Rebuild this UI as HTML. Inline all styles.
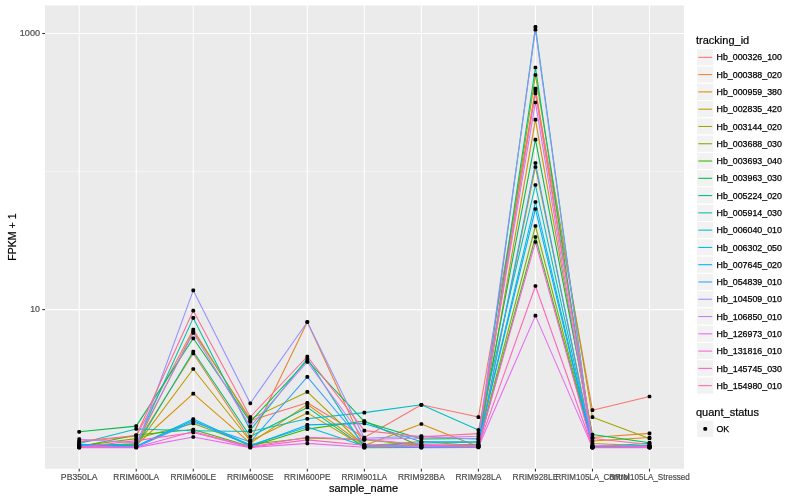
<!DOCTYPE html>
<html lang="en"><head><meta charset="utf-8"><title>FPKM + 1 by sample_name</title>
<style>html,body{margin:0;padding:0;background:#fff}svg{display:block}text{font-family:"Liberation Sans",Arial,Helvetica,sans-serif}</style>
</head><body>
<svg width="800" height="500" viewBox="0 0 800 500">
<rect width="800" height="500" fill="#ffffff"/>
<rect x="45.0" y="5.5" width="639.0" height="463.25" fill="#EBEBEB"/>
<g stroke="#ffffff" stroke-width="0.53" opacity="0.9">
<line x1="45.0" x2="684.0" y1="447.65" y2="447.65"/>
<line x1="45.0" x2="684.0" y1="171.55" y2="171.55"/>
</g>
<g stroke="#ffffff" stroke-width="1.07">
<line x1="45.0" x2="684.0" y1="309.60" y2="309.60"/>
<line x1="45.0" x2="684.0" y1="33.50" y2="33.50"/>
<line x1="79.20" x2="79.20" y1="5.5" y2="468.75"/>
<line x1="136.23" x2="136.23" y1="5.5" y2="468.75"/>
<line x1="193.26" x2="193.26" y1="5.5" y2="468.75"/>
<line x1="250.29" x2="250.29" y1="5.5" y2="468.75"/>
<line x1="307.32" x2="307.32" y1="5.5" y2="468.75"/>
<line x1="364.35" x2="364.35" y1="5.5" y2="468.75"/>
<line x1="421.38" x2="421.38" y1="5.5" y2="468.75"/>
<line x1="478.41" x2="478.41" y1="5.5" y2="468.75"/>
<line x1="535.44" x2="535.44" y1="5.5" y2="468.75"/>
<line x1="592.47" x2="592.47" y1="5.5" y2="468.75"/>
<line x1="649.50" x2="649.50" y1="5.5" y2="468.75"/>
</g>
<g fill="none" stroke-width="1.07" stroke-linejoin="round" stroke-linecap="butt">
<polyline stroke="#F8766D" points="79.20,442.00 136.23,436.20 193.26,329.60 250.29,420.50 307.32,402.80 364.35,437.50 421.38,404.80 478.41,417.10 535.44,91.00 592.47,410.20 649.50,396.50"/>
<polyline stroke="#EA8331" points="79.20,447.00 136.23,443.50 193.26,353.50 250.29,440.00 307.32,322.00 364.35,446.30 421.38,446.20 478.41,444.00 535.44,88.60 592.47,437.50 649.50,433.40"/>
<polyline stroke="#D89000" points="79.20,446.50 136.23,445.00 193.26,393.60 250.29,443.20 307.32,404.40 364.35,445.50 421.38,424.00 478.41,446.80 535.44,119.60 592.47,441.00 649.50,437.50"/>
<polyline stroke="#C09B00" points="79.20,446.20 136.23,445.60 193.26,369.00 250.29,441.00 307.32,412.90 364.35,446.70 421.38,445.00 478.41,446.50 535.44,167.00 592.47,443.50 649.50,446.00"/>
<polyline stroke="#A3A500" points="79.20,445.80 136.23,444.50 193.26,331.50 250.29,419.00 307.32,391.90 364.35,446.00 421.38,441.50 478.41,446.00 535.44,75.00 592.47,417.20 649.50,438.50"/>
<polyline stroke="#7CAE00" points="79.20,446.00 136.23,438.60 193.26,423.50 250.29,444.50 307.32,438.00 364.35,439.80 421.38,445.50 478.41,445.00 535.44,226.00 592.47,446.00 649.50,446.30"/>
<polyline stroke="#39B600" points="79.20,446.80 136.23,435.00 193.26,429.50 250.29,446.50 307.32,429.10 364.35,421.00 421.38,446.80 478.41,445.80 535.44,237.00 592.47,446.30 649.50,446.60"/>
<polyline stroke="#00BB4E" points="79.20,431.80 136.23,426.10 193.26,338.30 250.29,421.80 307.32,360.50 364.35,421.70 421.38,439.00 478.41,438.50 535.44,139.60 592.47,434.50 649.50,442.80"/>
<polyline stroke="#00BF7D" points="79.20,444.50 136.23,446.00 193.26,351.50 250.29,436.50 307.32,407.40 364.35,447.40 421.38,447.20 478.41,444.80 535.44,67.50 592.47,446.60 649.50,446.80"/>
<polyline stroke="#00C1A3" points="79.20,445.50 136.23,444.00 193.26,317.90 250.29,430.30 307.32,358.50 364.35,447.60 421.38,447.50 478.41,447.10 535.44,26.90 592.47,446.80 649.50,447.00"/>
<polyline stroke="#00BFC4" points="79.20,443.50 136.23,429.00 193.26,430.80 250.29,431.50 307.32,418.80 364.35,412.65 421.38,404.80 478.41,430.10 535.44,185.00 592.47,447.00 649.50,443.20"/>
<polyline stroke="#00BAE0" points="79.20,444.80 136.23,446.30 193.26,419.00 250.29,445.20 307.32,426.90 364.35,446.10 421.38,443.00 478.41,442.30 535.44,202.00 592.47,447.10 649.50,446.90"/>
<polyline stroke="#00B0F6" points="79.20,444.30 136.23,446.60 193.26,420.50 250.29,446.00 307.32,424.90 364.35,423.40 421.38,441.80 478.41,441.50 535.44,209.00 592.47,447.20 649.50,445.50"/>
<polyline stroke="#35A2FF" points="79.20,445.20 136.23,446.90 193.26,422.00 250.29,442.00 307.32,376.90 364.35,444.50 421.38,447.60 478.41,447.50 535.44,163.00 592.47,447.30 649.50,447.20"/>
<polyline stroke="#9590FF" points="79.20,447.20 136.23,447.00 193.26,290.40 250.29,403.30 307.32,322.00 364.35,438.30 421.38,436.00 478.41,439.30 535.44,29.60 592.47,447.40 649.50,447.30"/>
<polyline stroke="#C77CFF" points="79.20,439.20 136.23,442.70 193.26,333.00 250.29,426.40 307.32,362.00 364.35,439.50 421.38,438.00 478.41,436.30 535.44,102.50 592.47,445.20 649.50,446.50"/>
<polyline stroke="#E76BF3" points="79.20,447.60 136.23,447.60 193.26,437.00 250.29,447.60 307.32,443.40 364.35,447.20 421.38,446.50 478.41,447.00 535.44,315.60 592.47,447.60 649.50,447.60"/>
<polyline stroke="#FA62DB" points="79.20,446.60 136.23,447.20 193.26,431.50 250.29,446.80 307.32,437.30 364.35,439.30 421.38,444.50 478.41,445.50 535.44,242.00 592.47,447.30 649.50,447.40"/>
<polyline stroke="#FF62BC" points="79.20,447.30 136.23,440.60 193.26,432.50 250.29,447.20 307.32,439.90 364.35,445.30 421.38,445.20 478.41,446.30 535.44,286.00 592.47,447.50 649.50,447.50"/>
<polyline stroke="#FF6A98" points="79.20,441.30 136.23,435.50 193.26,310.70 250.29,417.00 307.32,356.50 364.35,430.60 421.38,436.80 478.41,433.60 535.44,93.40 592.47,438.50 649.50,444.50"/>
</g>
<g fill="#000000">
<rect x="77.35" y="440.15" width="3.7" height="3.7" rx="1.3"/>
<rect x="134.38" y="434.35" width="3.7" height="3.7" rx="1.3"/>
<rect x="191.41" y="327.75" width="3.7" height="3.7" rx="1.3"/>
<rect x="248.44" y="418.65" width="3.7" height="3.7" rx="1.3"/>
<rect x="305.47" y="400.95" width="3.7" height="3.7" rx="1.3"/>
<rect x="362.50" y="435.65" width="3.7" height="3.7" rx="1.3"/>
<rect x="419.53" y="402.95" width="3.7" height="3.7" rx="1.3"/>
<rect x="476.56" y="415.25" width="3.7" height="3.7" rx="1.3"/>
<rect x="533.59" y="89.15" width="3.7" height="3.7" rx="1.3"/>
<rect x="590.62" y="408.35" width="3.7" height="3.7" rx="1.3"/>
<rect x="647.65" y="394.65" width="3.7" height="3.7" rx="1.3"/>
<rect x="77.35" y="445.15" width="3.7" height="3.7" rx="1.3"/>
<rect x="134.38" y="441.65" width="3.7" height="3.7" rx="1.3"/>
<rect x="191.41" y="351.65" width="3.7" height="3.7" rx="1.3"/>
<rect x="248.44" y="438.15" width="3.7" height="3.7" rx="1.3"/>
<rect x="305.47" y="320.15" width="3.7" height="3.7" rx="1.3"/>
<rect x="362.50" y="444.45" width="3.7" height="3.7" rx="1.3"/>
<rect x="419.53" y="444.35" width="3.7" height="3.7" rx="1.3"/>
<rect x="476.56" y="442.15" width="3.7" height="3.7" rx="1.3"/>
<rect x="533.59" y="86.75" width="3.7" height="3.7" rx="1.3"/>
<rect x="590.62" y="435.65" width="3.7" height="3.7" rx="1.3"/>
<rect x="647.65" y="431.55" width="3.7" height="3.7" rx="1.3"/>
<rect x="77.35" y="444.65" width="3.7" height="3.7" rx="1.3"/>
<rect x="134.38" y="443.15" width="3.7" height="3.7" rx="1.3"/>
<rect x="191.41" y="391.75" width="3.7" height="3.7" rx="1.3"/>
<rect x="248.44" y="441.35" width="3.7" height="3.7" rx="1.3"/>
<rect x="305.47" y="402.55" width="3.7" height="3.7" rx="1.3"/>
<rect x="362.50" y="443.65" width="3.7" height="3.7" rx="1.3"/>
<rect x="419.53" y="422.15" width="3.7" height="3.7" rx="1.3"/>
<rect x="476.56" y="444.95" width="3.7" height="3.7" rx="1.3"/>
<rect x="533.59" y="117.75" width="3.7" height="3.7" rx="1.3"/>
<rect x="590.62" y="439.15" width="3.7" height="3.7" rx="1.3"/>
<rect x="647.65" y="435.65" width="3.7" height="3.7" rx="1.3"/>
<rect x="77.35" y="444.35" width="3.7" height="3.7" rx="1.3"/>
<rect x="134.38" y="443.75" width="3.7" height="3.7" rx="1.3"/>
<rect x="191.41" y="367.15" width="3.7" height="3.7" rx="1.3"/>
<rect x="248.44" y="439.15" width="3.7" height="3.7" rx="1.3"/>
<rect x="305.47" y="411.05" width="3.7" height="3.7" rx="1.3"/>
<rect x="362.50" y="444.85" width="3.7" height="3.7" rx="1.3"/>
<rect x="419.53" y="443.15" width="3.7" height="3.7" rx="1.3"/>
<rect x="476.56" y="444.65" width="3.7" height="3.7" rx="1.3"/>
<rect x="533.59" y="165.15" width="3.7" height="3.7" rx="1.3"/>
<rect x="590.62" y="441.65" width="3.7" height="3.7" rx="1.3"/>
<rect x="647.65" y="444.15" width="3.7" height="3.7" rx="1.3"/>
<rect x="77.35" y="443.95" width="3.7" height="3.7" rx="1.3"/>
<rect x="134.38" y="442.65" width="3.7" height="3.7" rx="1.3"/>
<rect x="191.41" y="329.65" width="3.7" height="3.7" rx="1.3"/>
<rect x="248.44" y="417.15" width="3.7" height="3.7" rx="1.3"/>
<rect x="305.47" y="390.05" width="3.7" height="3.7" rx="1.3"/>
<rect x="362.50" y="444.15" width="3.7" height="3.7" rx="1.3"/>
<rect x="419.53" y="439.65" width="3.7" height="3.7" rx="1.3"/>
<rect x="476.56" y="444.15" width="3.7" height="3.7" rx="1.3"/>
<rect x="533.59" y="73.15" width="3.7" height="3.7" rx="1.3"/>
<rect x="590.62" y="415.35" width="3.7" height="3.7" rx="1.3"/>
<rect x="647.65" y="436.65" width="3.7" height="3.7" rx="1.3"/>
<rect x="77.35" y="444.15" width="3.7" height="3.7" rx="1.3"/>
<rect x="134.38" y="436.75" width="3.7" height="3.7" rx="1.3"/>
<rect x="191.41" y="421.65" width="3.7" height="3.7" rx="1.3"/>
<rect x="248.44" y="442.65" width="3.7" height="3.7" rx="1.3"/>
<rect x="305.47" y="436.15" width="3.7" height="3.7" rx="1.3"/>
<rect x="362.50" y="437.95" width="3.7" height="3.7" rx="1.3"/>
<rect x="419.53" y="443.65" width="3.7" height="3.7" rx="1.3"/>
<rect x="476.56" y="443.15" width="3.7" height="3.7" rx="1.3"/>
<rect x="533.59" y="224.15" width="3.7" height="3.7" rx="1.3"/>
<rect x="590.62" y="444.15" width="3.7" height="3.7" rx="1.3"/>
<rect x="647.65" y="444.45" width="3.7" height="3.7" rx="1.3"/>
<rect x="77.35" y="444.95" width="3.7" height="3.7" rx="1.3"/>
<rect x="134.38" y="433.15" width="3.7" height="3.7" rx="1.3"/>
<rect x="191.41" y="427.65" width="3.7" height="3.7" rx="1.3"/>
<rect x="248.44" y="444.65" width="3.7" height="3.7" rx="1.3"/>
<rect x="305.47" y="427.25" width="3.7" height="3.7" rx="1.3"/>
<rect x="362.50" y="419.15" width="3.7" height="3.7" rx="1.3"/>
<rect x="419.53" y="444.95" width="3.7" height="3.7" rx="1.3"/>
<rect x="476.56" y="443.95" width="3.7" height="3.7" rx="1.3"/>
<rect x="533.59" y="235.15" width="3.7" height="3.7" rx="1.3"/>
<rect x="590.62" y="444.45" width="3.7" height="3.7" rx="1.3"/>
<rect x="647.65" y="444.75" width="3.7" height="3.7" rx="1.3"/>
<rect x="77.35" y="429.95" width="3.7" height="3.7" rx="1.3"/>
<rect x="134.38" y="424.25" width="3.7" height="3.7" rx="1.3"/>
<rect x="191.41" y="336.45" width="3.7" height="3.7" rx="1.3"/>
<rect x="248.44" y="419.95" width="3.7" height="3.7" rx="1.3"/>
<rect x="305.47" y="358.65" width="3.7" height="3.7" rx="1.3"/>
<rect x="362.50" y="419.85" width="3.7" height="3.7" rx="1.3"/>
<rect x="419.53" y="437.15" width="3.7" height="3.7" rx="1.3"/>
<rect x="476.56" y="436.65" width="3.7" height="3.7" rx="1.3"/>
<rect x="533.59" y="137.75" width="3.7" height="3.7" rx="1.3"/>
<rect x="590.62" y="432.65" width="3.7" height="3.7" rx="1.3"/>
<rect x="647.65" y="440.95" width="3.7" height="3.7" rx="1.3"/>
<rect x="77.35" y="442.65" width="3.7" height="3.7" rx="1.3"/>
<rect x="134.38" y="444.15" width="3.7" height="3.7" rx="1.3"/>
<rect x="191.41" y="349.65" width="3.7" height="3.7" rx="1.3"/>
<rect x="248.44" y="434.65" width="3.7" height="3.7" rx="1.3"/>
<rect x="305.47" y="405.55" width="3.7" height="3.7" rx="1.3"/>
<rect x="362.50" y="445.55" width="3.7" height="3.7" rx="1.3"/>
<rect x="419.53" y="445.35" width="3.7" height="3.7" rx="1.3"/>
<rect x="476.56" y="442.95" width="3.7" height="3.7" rx="1.3"/>
<rect x="533.59" y="65.65" width="3.7" height="3.7" rx="1.3"/>
<rect x="590.62" y="444.75" width="3.7" height="3.7" rx="1.3"/>
<rect x="647.65" y="444.95" width="3.7" height="3.7" rx="1.3"/>
<rect x="77.35" y="443.65" width="3.7" height="3.7" rx="1.3"/>
<rect x="134.38" y="442.15" width="3.7" height="3.7" rx="1.3"/>
<rect x="191.41" y="316.05" width="3.7" height="3.7" rx="1.3"/>
<rect x="248.44" y="428.45" width="3.7" height="3.7" rx="1.3"/>
<rect x="305.47" y="356.65" width="3.7" height="3.7" rx="1.3"/>
<rect x="362.50" y="445.75" width="3.7" height="3.7" rx="1.3"/>
<rect x="419.53" y="445.65" width="3.7" height="3.7" rx="1.3"/>
<rect x="476.56" y="445.25" width="3.7" height="3.7" rx="1.3"/>
<rect x="533.59" y="25.05" width="3.7" height="3.7" rx="1.3"/>
<rect x="590.62" y="444.95" width="3.7" height="3.7" rx="1.3"/>
<rect x="647.65" y="445.15" width="3.7" height="3.7" rx="1.3"/>
<rect x="77.35" y="441.65" width="3.7" height="3.7" rx="1.3"/>
<rect x="134.38" y="427.15" width="3.7" height="3.7" rx="1.3"/>
<rect x="191.41" y="428.95" width="3.7" height="3.7" rx="1.3"/>
<rect x="248.44" y="429.65" width="3.7" height="3.7" rx="1.3"/>
<rect x="305.47" y="416.95" width="3.7" height="3.7" rx="1.3"/>
<rect x="362.50" y="410.80" width="3.7" height="3.7" rx="1.3"/>
<rect x="419.53" y="402.95" width="3.7" height="3.7" rx="1.3"/>
<rect x="476.56" y="428.25" width="3.7" height="3.7" rx="1.3"/>
<rect x="533.59" y="183.15" width="3.7" height="3.7" rx="1.3"/>
<rect x="590.62" y="445.15" width="3.7" height="3.7" rx="1.3"/>
<rect x="647.65" y="441.35" width="3.7" height="3.7" rx="1.3"/>
<rect x="77.35" y="442.95" width="3.7" height="3.7" rx="1.3"/>
<rect x="134.38" y="444.45" width="3.7" height="3.7" rx="1.3"/>
<rect x="191.41" y="417.15" width="3.7" height="3.7" rx="1.3"/>
<rect x="248.44" y="443.35" width="3.7" height="3.7" rx="1.3"/>
<rect x="305.47" y="425.05" width="3.7" height="3.7" rx="1.3"/>
<rect x="362.50" y="444.25" width="3.7" height="3.7" rx="1.3"/>
<rect x="419.53" y="441.15" width="3.7" height="3.7" rx="1.3"/>
<rect x="476.56" y="440.45" width="3.7" height="3.7" rx="1.3"/>
<rect x="533.59" y="200.15" width="3.7" height="3.7" rx="1.3"/>
<rect x="590.62" y="445.25" width="3.7" height="3.7" rx="1.3"/>
<rect x="647.65" y="445.05" width="3.7" height="3.7" rx="1.3"/>
<rect x="77.35" y="442.45" width="3.7" height="3.7" rx="1.3"/>
<rect x="134.38" y="444.75" width="3.7" height="3.7" rx="1.3"/>
<rect x="191.41" y="418.65" width="3.7" height="3.7" rx="1.3"/>
<rect x="248.44" y="444.15" width="3.7" height="3.7" rx="1.3"/>
<rect x="305.47" y="423.05" width="3.7" height="3.7" rx="1.3"/>
<rect x="362.50" y="421.55" width="3.7" height="3.7" rx="1.3"/>
<rect x="419.53" y="439.95" width="3.7" height="3.7" rx="1.3"/>
<rect x="476.56" y="439.65" width="3.7" height="3.7" rx="1.3"/>
<rect x="533.59" y="207.15" width="3.7" height="3.7" rx="1.3"/>
<rect x="590.62" y="445.35" width="3.7" height="3.7" rx="1.3"/>
<rect x="647.65" y="443.65" width="3.7" height="3.7" rx="1.3"/>
<rect x="77.35" y="443.35" width="3.7" height="3.7" rx="1.3"/>
<rect x="134.38" y="445.05" width="3.7" height="3.7" rx="1.3"/>
<rect x="191.41" y="420.15" width="3.7" height="3.7" rx="1.3"/>
<rect x="248.44" y="440.15" width="3.7" height="3.7" rx="1.3"/>
<rect x="305.47" y="375.05" width="3.7" height="3.7" rx="1.3"/>
<rect x="362.50" y="442.65" width="3.7" height="3.7" rx="1.3"/>
<rect x="419.53" y="445.75" width="3.7" height="3.7" rx="1.3"/>
<rect x="476.56" y="445.65" width="3.7" height="3.7" rx="1.3"/>
<rect x="533.59" y="161.15" width="3.7" height="3.7" rx="1.3"/>
<rect x="590.62" y="445.45" width="3.7" height="3.7" rx="1.3"/>
<rect x="647.65" y="445.35" width="3.7" height="3.7" rx="1.3"/>
<rect x="77.35" y="445.35" width="3.7" height="3.7" rx="1.3"/>
<rect x="134.38" y="445.15" width="3.7" height="3.7" rx="1.3"/>
<rect x="191.41" y="288.55" width="3.7" height="3.7" rx="1.3"/>
<rect x="248.44" y="401.45" width="3.7" height="3.7" rx="1.3"/>
<rect x="305.47" y="320.15" width="3.7" height="3.7" rx="1.3"/>
<rect x="362.50" y="436.45" width="3.7" height="3.7" rx="1.3"/>
<rect x="419.53" y="434.15" width="3.7" height="3.7" rx="1.3"/>
<rect x="476.56" y="437.45" width="3.7" height="3.7" rx="1.3"/>
<rect x="533.59" y="27.75" width="3.7" height="3.7" rx="1.3"/>
<rect x="590.62" y="445.55" width="3.7" height="3.7" rx="1.3"/>
<rect x="647.65" y="445.45" width="3.7" height="3.7" rx="1.3"/>
<rect x="77.35" y="437.35" width="3.7" height="3.7" rx="1.3"/>
<rect x="134.38" y="440.85" width="3.7" height="3.7" rx="1.3"/>
<rect x="191.41" y="331.15" width="3.7" height="3.7" rx="1.3"/>
<rect x="248.44" y="424.55" width="3.7" height="3.7" rx="1.3"/>
<rect x="305.47" y="360.15" width="3.7" height="3.7" rx="1.3"/>
<rect x="362.50" y="437.65" width="3.7" height="3.7" rx="1.3"/>
<rect x="419.53" y="436.15" width="3.7" height="3.7" rx="1.3"/>
<rect x="476.56" y="434.45" width="3.7" height="3.7" rx="1.3"/>
<rect x="533.59" y="100.65" width="3.7" height="3.7" rx="1.3"/>
<rect x="590.62" y="443.35" width="3.7" height="3.7" rx="1.3"/>
<rect x="647.65" y="444.65" width="3.7" height="3.7" rx="1.3"/>
<rect x="77.35" y="445.75" width="3.7" height="3.7" rx="1.3"/>
<rect x="134.38" y="445.75" width="3.7" height="3.7" rx="1.3"/>
<rect x="191.41" y="435.15" width="3.7" height="3.7" rx="1.3"/>
<rect x="248.44" y="445.75" width="3.7" height="3.7" rx="1.3"/>
<rect x="305.47" y="441.55" width="3.7" height="3.7" rx="1.3"/>
<rect x="362.50" y="445.35" width="3.7" height="3.7" rx="1.3"/>
<rect x="419.53" y="444.65" width="3.7" height="3.7" rx="1.3"/>
<rect x="476.56" y="445.15" width="3.7" height="3.7" rx="1.3"/>
<rect x="533.59" y="313.75" width="3.7" height="3.7" rx="1.3"/>
<rect x="590.62" y="445.75" width="3.7" height="3.7" rx="1.3"/>
<rect x="647.65" y="445.75" width="3.7" height="3.7" rx="1.3"/>
<rect x="77.35" y="444.75" width="3.7" height="3.7" rx="1.3"/>
<rect x="134.38" y="445.35" width="3.7" height="3.7" rx="1.3"/>
<rect x="191.41" y="429.65" width="3.7" height="3.7" rx="1.3"/>
<rect x="248.44" y="444.95" width="3.7" height="3.7" rx="1.3"/>
<rect x="305.47" y="435.45" width="3.7" height="3.7" rx="1.3"/>
<rect x="362.50" y="437.45" width="3.7" height="3.7" rx="1.3"/>
<rect x="419.53" y="442.65" width="3.7" height="3.7" rx="1.3"/>
<rect x="476.56" y="443.65" width="3.7" height="3.7" rx="1.3"/>
<rect x="533.59" y="240.15" width="3.7" height="3.7" rx="1.3"/>
<rect x="590.62" y="445.45" width="3.7" height="3.7" rx="1.3"/>
<rect x="647.65" y="445.55" width="3.7" height="3.7" rx="1.3"/>
<rect x="77.35" y="445.45" width="3.7" height="3.7" rx="1.3"/>
<rect x="134.38" y="438.75" width="3.7" height="3.7" rx="1.3"/>
<rect x="191.41" y="430.65" width="3.7" height="3.7" rx="1.3"/>
<rect x="248.44" y="445.35" width="3.7" height="3.7" rx="1.3"/>
<rect x="305.47" y="438.05" width="3.7" height="3.7" rx="1.3"/>
<rect x="362.50" y="443.45" width="3.7" height="3.7" rx="1.3"/>
<rect x="419.53" y="443.35" width="3.7" height="3.7" rx="1.3"/>
<rect x="476.56" y="444.45" width="3.7" height="3.7" rx="1.3"/>
<rect x="533.59" y="284.15" width="3.7" height="3.7" rx="1.3"/>
<rect x="590.62" y="445.65" width="3.7" height="3.7" rx="1.3"/>
<rect x="647.65" y="445.65" width="3.7" height="3.7" rx="1.3"/>
<rect x="77.35" y="439.45" width="3.7" height="3.7" rx="1.3"/>
<rect x="134.38" y="433.65" width="3.7" height="3.7" rx="1.3"/>
<rect x="191.41" y="308.85" width="3.7" height="3.7" rx="1.3"/>
<rect x="248.44" y="415.15" width="3.7" height="3.7" rx="1.3"/>
<rect x="305.47" y="354.65" width="3.7" height="3.7" rx="1.3"/>
<rect x="362.50" y="428.75" width="3.7" height="3.7" rx="1.3"/>
<rect x="419.53" y="434.95" width="3.7" height="3.7" rx="1.3"/>
<rect x="476.56" y="431.75" width="3.7" height="3.7" rx="1.3"/>
<rect x="533.59" y="91.55" width="3.7" height="3.7" rx="1.3"/>
<rect x="590.62" y="436.65" width="3.7" height="3.7" rx="1.3"/>
<rect x="647.65" y="442.65" width="3.7" height="3.7" rx="1.3"/>
</g>
<g stroke="#333333" stroke-width="1.07">
<line x1="42.25" x2="45.0" y1="309.60" y2="309.60"/>
<line x1="42.25" x2="45.0" y1="33.50" y2="33.50"/>
<line x1="79.20" x2="79.20" y1="468.75" y2="471.5"/>
<line x1="136.23" x2="136.23" y1="468.75" y2="471.5"/>
<line x1="193.26" x2="193.26" y1="468.75" y2="471.5"/>
<line x1="250.29" x2="250.29" y1="468.75" y2="471.5"/>
<line x1="307.32" x2="307.32" y1="468.75" y2="471.5"/>
<line x1="364.35" x2="364.35" y1="468.75" y2="471.5"/>
<line x1="421.38" x2="421.38" y1="468.75" y2="471.5"/>
<line x1="478.41" x2="478.41" y1="468.75" y2="471.5"/>
<line x1="535.44" x2="535.44" y1="468.75" y2="471.5"/>
<line x1="592.47" x2="592.47" y1="468.75" y2="471.5"/>
<line x1="649.50" x2="649.50" y1="468.75" y2="471.5"/>
</g>
<g fill="#4D4D4D" font-size="8.8px" stroke="#4D4D4D" stroke-width="0.2">
<text x="40" y="35.80" text-anchor="end" textLength="20.2" lengthAdjust="spacingAndGlyphs">1000</text>
<text x="40" y="311.90" text-anchor="end" textLength="9.8" lengthAdjust="spacingAndGlyphs">10</text>
<text x="60.83" y="479.6" textLength="36.75" lengthAdjust="spacingAndGlyphs">PB350LA</text>
<text x="113.36" y="479.6" textLength="45.75" lengthAdjust="spacingAndGlyphs">RRIM600LA</text>
<text x="170.38" y="479.6" textLength="45.75" lengthAdjust="spacingAndGlyphs">RRIM600LE</text>
<text x="226.92" y="479.6" textLength="46.75" lengthAdjust="spacingAndGlyphs">RRIM600SE</text>
<text x="284.07" y="479.6" textLength="46.5" lengthAdjust="spacingAndGlyphs">RRIM600PE</text>
<text x="341.47" y="479.6" textLength="45.75" lengthAdjust="spacingAndGlyphs">RRIM901LA</text>
<text x="397.88" y="479.6" textLength="47" lengthAdjust="spacingAndGlyphs">RRIM928BA</text>
<text x="455.54" y="479.6" textLength="45.75" lengthAdjust="spacingAndGlyphs">RRIM928LA</text>
<text x="512.57" y="479.6" textLength="45.75" lengthAdjust="spacingAndGlyphs">RRIM928LE</text>
<text x="555.47" y="479.6" textLength="74" lengthAdjust="spacingAndGlyphs">RRIM105LA_Control</text>
<text x="609.25" y="479.6" textLength="80.5" lengthAdjust="spacingAndGlyphs">RRIM105LA_Stressed</text>
</g>
<text x="363.5" y="492" text-anchor="middle" font-size="11px" fill="#000" stroke="#000" stroke-width="0.2">sample_name</text>
<text transform="translate(16.3,237.1) rotate(-90)" text-anchor="middle" font-size="11px" fill="#000" stroke="#000" stroke-width="0.2" textLength="47.2" lengthAdjust="spacingAndGlyphs">FPKM + 1</text>
<text x="696" y="44.3" font-size="11px" fill="#000" stroke="#000" stroke-width="0.2">tracking_id</text>
<rect x="696.6" y="48.70" width="17.28" height="17.28" fill="#F2F2F2" stroke="#fff" stroke-width="1.07"/>
<line x1="698.33" x2="712.15" y1="57.34" y2="57.34" stroke="#F8766D" stroke-width="1.07"/>
<text x="716.5" y="60.49" font-size="8.8px" fill="#000" stroke="#000" stroke-width="0.25" textLength="65.4" lengthAdjust="spacingAndGlyphs">Hb_000326_100</text>
<rect x="696.6" y="65.98" width="17.28" height="17.28" fill="#F2F2F2" stroke="#fff" stroke-width="1.07"/>
<line x1="698.33" x2="712.15" y1="74.62" y2="74.62" stroke="#EA8331" stroke-width="1.07"/>
<text x="716.5" y="77.77" font-size="8.8px" fill="#000" stroke="#000" stroke-width="0.25" textLength="65.4" lengthAdjust="spacingAndGlyphs">Hb_000388_020</text>
<rect x="696.6" y="83.26" width="17.28" height="17.28" fill="#F2F2F2" stroke="#fff" stroke-width="1.07"/>
<line x1="698.33" x2="712.15" y1="91.90" y2="91.90" stroke="#D89000" stroke-width="1.07"/>
<text x="716.5" y="95.05" font-size="8.8px" fill="#000" stroke="#000" stroke-width="0.25" textLength="65.4" lengthAdjust="spacingAndGlyphs">Hb_000959_380</text>
<rect x="696.6" y="100.54" width="17.28" height="17.28" fill="#F2F2F2" stroke="#fff" stroke-width="1.07"/>
<line x1="698.33" x2="712.15" y1="109.18" y2="109.18" stroke="#C09B00" stroke-width="1.07"/>
<text x="716.5" y="112.33" font-size="8.8px" fill="#000" stroke="#000" stroke-width="0.25" textLength="65.4" lengthAdjust="spacingAndGlyphs">Hb_002835_420</text>
<rect x="696.6" y="117.82" width="17.28" height="17.28" fill="#F2F2F2" stroke="#fff" stroke-width="1.07"/>
<line x1="698.33" x2="712.15" y1="126.46" y2="126.46" stroke="#A3A500" stroke-width="1.07"/>
<text x="716.5" y="129.61" font-size="8.8px" fill="#000" stroke="#000" stroke-width="0.25" textLength="65.4" lengthAdjust="spacingAndGlyphs">Hb_003144_020</text>
<rect x="696.6" y="135.10" width="17.28" height="17.28" fill="#F2F2F2" stroke="#fff" stroke-width="1.07"/>
<line x1="698.33" x2="712.15" y1="143.74" y2="143.74" stroke="#7CAE00" stroke-width="1.07"/>
<text x="716.5" y="146.89" font-size="8.8px" fill="#000" stroke="#000" stroke-width="0.25" textLength="65.4" lengthAdjust="spacingAndGlyphs">Hb_003688_030</text>
<rect x="696.6" y="152.38" width="17.28" height="17.28" fill="#F2F2F2" stroke="#fff" stroke-width="1.07"/>
<line x1="698.33" x2="712.15" y1="161.02" y2="161.02" stroke="#39B600" stroke-width="1.07"/>
<text x="716.5" y="164.17" font-size="8.8px" fill="#000" stroke="#000" stroke-width="0.25" textLength="65.4" lengthAdjust="spacingAndGlyphs">Hb_003693_040</text>
<rect x="696.6" y="169.66" width="17.28" height="17.28" fill="#F2F2F2" stroke="#fff" stroke-width="1.07"/>
<line x1="698.33" x2="712.15" y1="178.30" y2="178.30" stroke="#00BB4E" stroke-width="1.07"/>
<text x="716.5" y="181.45" font-size="8.8px" fill="#000" stroke="#000" stroke-width="0.25" textLength="65.4" lengthAdjust="spacingAndGlyphs">Hb_003963_030</text>
<rect x="696.6" y="186.94" width="17.28" height="17.28" fill="#F2F2F2" stroke="#fff" stroke-width="1.07"/>
<line x1="698.33" x2="712.15" y1="195.58" y2="195.58" stroke="#00BF7D" stroke-width="1.07"/>
<text x="716.5" y="198.73" font-size="8.8px" fill="#000" stroke="#000" stroke-width="0.25" textLength="65.4" lengthAdjust="spacingAndGlyphs">Hb_005224_020</text>
<rect x="696.6" y="204.22" width="17.28" height="17.28" fill="#F2F2F2" stroke="#fff" stroke-width="1.07"/>
<line x1="698.33" x2="712.15" y1="212.86" y2="212.86" stroke="#00C1A3" stroke-width="1.07"/>
<text x="716.5" y="216.01" font-size="8.8px" fill="#000" stroke="#000" stroke-width="0.25" textLength="65.4" lengthAdjust="spacingAndGlyphs">Hb_005914_030</text>
<rect x="696.6" y="221.50" width="17.28" height="17.28" fill="#F2F2F2" stroke="#fff" stroke-width="1.07"/>
<line x1="698.33" x2="712.15" y1="230.14" y2="230.14" stroke="#00BFC4" stroke-width="1.07"/>
<text x="716.5" y="233.29" font-size="8.8px" fill="#000" stroke="#000" stroke-width="0.25" textLength="65.4" lengthAdjust="spacingAndGlyphs">Hb_006040_010</text>
<rect x="696.6" y="238.78" width="17.28" height="17.28" fill="#F2F2F2" stroke="#fff" stroke-width="1.07"/>
<line x1="698.33" x2="712.15" y1="247.42" y2="247.42" stroke="#00BAE0" stroke-width="1.07"/>
<text x="716.5" y="250.57" font-size="8.8px" fill="#000" stroke="#000" stroke-width="0.25" textLength="65.4" lengthAdjust="spacingAndGlyphs">Hb_006302_050</text>
<rect x="696.6" y="256.06" width="17.28" height="17.28" fill="#F2F2F2" stroke="#fff" stroke-width="1.07"/>
<line x1="698.33" x2="712.15" y1="264.70" y2="264.70" stroke="#00B0F6" stroke-width="1.07"/>
<text x="716.5" y="267.85" font-size="8.8px" fill="#000" stroke="#000" stroke-width="0.25" textLength="65.4" lengthAdjust="spacingAndGlyphs">Hb_007645_020</text>
<rect x="696.6" y="273.34" width="17.28" height="17.28" fill="#F2F2F2" stroke="#fff" stroke-width="1.07"/>
<line x1="698.33" x2="712.15" y1="281.98" y2="281.98" stroke="#35A2FF" stroke-width="1.07"/>
<text x="716.5" y="285.13" font-size="8.8px" fill="#000" stroke="#000" stroke-width="0.25" textLength="65.4" lengthAdjust="spacingAndGlyphs">Hb_054839_010</text>
<rect x="696.6" y="290.62" width="17.28" height="17.28" fill="#F2F2F2" stroke="#fff" stroke-width="1.07"/>
<line x1="698.33" x2="712.15" y1="299.26" y2="299.26" stroke="#9590FF" stroke-width="1.07"/>
<text x="716.5" y="302.41" font-size="8.8px" fill="#000" stroke="#000" stroke-width="0.25" textLength="65.4" lengthAdjust="spacingAndGlyphs">Hb_104509_010</text>
<rect x="696.6" y="307.90" width="17.28" height="17.28" fill="#F2F2F2" stroke="#fff" stroke-width="1.07"/>
<line x1="698.33" x2="712.15" y1="316.54" y2="316.54" stroke="#C77CFF" stroke-width="1.07"/>
<text x="716.5" y="319.69" font-size="8.8px" fill="#000" stroke="#000" stroke-width="0.25" textLength="65.4" lengthAdjust="spacingAndGlyphs">Hb_106850_010</text>
<rect x="696.6" y="325.18" width="17.28" height="17.28" fill="#F2F2F2" stroke="#fff" stroke-width="1.07"/>
<line x1="698.33" x2="712.15" y1="333.82" y2="333.82" stroke="#E76BF3" stroke-width="1.07"/>
<text x="716.5" y="336.97" font-size="8.8px" fill="#000" stroke="#000" stroke-width="0.25" textLength="65.4" lengthAdjust="spacingAndGlyphs">Hb_126973_010</text>
<rect x="696.6" y="342.46" width="17.28" height="17.28" fill="#F2F2F2" stroke="#fff" stroke-width="1.07"/>
<line x1="698.33" x2="712.15" y1="351.10" y2="351.10" stroke="#FA62DB" stroke-width="1.07"/>
<text x="716.5" y="354.25" font-size="8.8px" fill="#000" stroke="#000" stroke-width="0.25" textLength="65.4" lengthAdjust="spacingAndGlyphs">Hb_131816_010</text>
<rect x="696.6" y="359.74" width="17.28" height="17.28" fill="#F2F2F2" stroke="#fff" stroke-width="1.07"/>
<line x1="698.33" x2="712.15" y1="368.38" y2="368.38" stroke="#FF62BC" stroke-width="1.07"/>
<text x="716.5" y="371.53" font-size="8.8px" fill="#000" stroke="#000" stroke-width="0.25" textLength="65.4" lengthAdjust="spacingAndGlyphs">Hb_145745_030</text>
<rect x="696.6" y="377.02" width="17.28" height="17.28" fill="#F2F2F2" stroke="#fff" stroke-width="1.07"/>
<line x1="698.33" x2="712.15" y1="385.66" y2="385.66" stroke="#FF6A98" stroke-width="1.07"/>
<text x="716.5" y="388.81" font-size="8.8px" fill="#000" stroke="#000" stroke-width="0.25" textLength="65.4" lengthAdjust="spacingAndGlyphs">Hb_154980_010</text>
<text x="696" y="415.5" font-size="11px" fill="#000" stroke="#000" stroke-width="0.2">quant_status</text>
<rect x="696.6" y="420.2" width="17.28" height="17.28" fill="#F2F2F2" stroke="#fff" stroke-width="1.07"/>
<rect x="703.39" y="426.99" width="3.7" height="3.7" rx="1.3" fill="#000"/>
<text x="716.5" y="431.99" font-size="8.8px" fill="#000" stroke="#000" stroke-width="0.25">OK</text>
</svg>
</body></html>
